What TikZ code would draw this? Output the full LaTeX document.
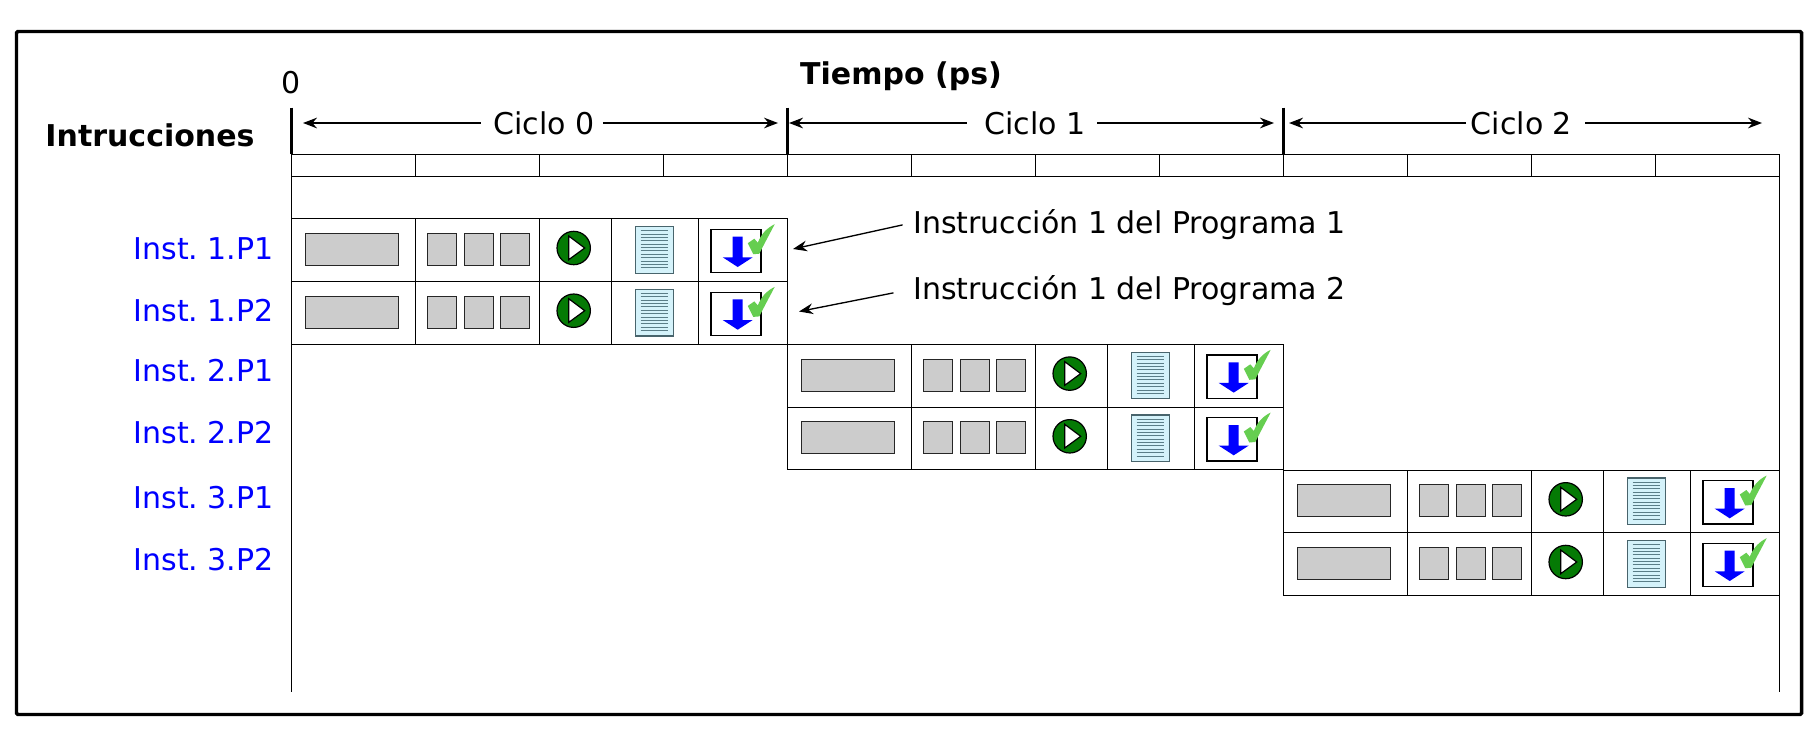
\documentclass[tikz,border=0pt]{standalone}
\usepackage{fontspec}
\setmainfont{DejaVu Sans}
\usetikzlibrary{arrows.meta, positioning}
\definecolor{etapagris}{RGB}{204,204,204}
\definecolor{hojaazul}{RGB}{212,242,250}
\definecolor{hojalinea}{RGB}{90,125,135}
\definecolor{verdeok}{RGB}{102,206,80}
\definecolor{verdeplay}{RGB}{5,122,5}
\frenchspacing
\tikzset{
  texto/.style={font=\fontsize{22.5}{27}\selectfont, inner sep=0pt},
  negrita/.style={font=\fontsize{22.5}{27}\selectfont\bfseries, inner sep=0pt},
  inst/.style={texto, text=blue, anchor=east},
  flecha/.style={-{Stealth[length=10.5pt,width=8pt]}, line width=1pt},
  celda/.style={draw=black, line width=0.75pt},
  gris/.style={draw=black!85, fill=etapagris, line width=0.6pt},
  instrow/.pic={
    % celdas
    \foreach \cx/\cw in {0/124, 124/124, 248/71.7, 319.7/87.7, 407.4/88.6}
      \draw[celda] (\cx,0) rectangle ++(\cw,62.7);
    % IF y registros
    \draw[gris] (14,14.6) rectangle (107.4,46.6);
    \foreach \cx in {136,173,209.4}
      \draw[gris] (\cx,14.6) rectangle ++(29,32);
    % ejecucion
    \draw[fill=verdeplay, line width=0.9pt] (282.4,29.3) circle (16.7);
    \draw[fill=white, line width=0.9pt] (277.4,17.3) -- (293.4,29.3) -- (277.4,41) -- cycle;
    % memoria
    \draw[fill=hojaazul, draw=hojalinea!80!black, line width=0.8pt] (344.4,8) rectangle (382,54.6);
    \foreach \ly in {0,...,11}
      \draw[hojalinea, line width=0.6pt] (349.4,12+3.36*\ly) -- (377,12+3.36*\ly);
    % escritura
    \draw[fill=white, line width=1pt] (419.7,10.8) rectangle (469.7,54);
    \fill[blue] (441.4,18) -- (451.4,18) -- (451.4,38.6) -- (461.4,38.6) -- (446.4,48.3)
      -- (431.4,38.6) -- (441.4,38.6) -- cycle;
    \fill[verdeok] (456.5,24.5) -- (463,20) -- (466.5,24) .. controls (470,15) and (476,9) .. (483.4,5.5)
      .. controls (479,14) and (473,25) .. (468,35) -- (462,35.5) -- cycle;
  }
}
\begin{document}
\begin{tikzpicture}[x=0.75pt, y=-0.75pt]
  \useasboundingbox (0,0) rectangle (1816,733);
  % marco
  \draw[line width=2.6pt, rounded corners=1pt] (16.5,31.5) rectangle (1801.5,714.5);
  % regla de tiempo
  \draw[line width=0.75pt] (291.3,154) rectangle (1779.3,176);
  \foreach \tx in {415.3,539.3,663.3,787.3,911.3,1035.3,1159.3,1283.3,1407.3,1531.3,1655.3}
    \draw[line width=0.75pt] (\tx,154) -- (\tx,176);
  \foreach \tx in {291.3,787.3,1283.3}
    \draw[line width=1.8pt] (\tx,107.5) -- (\tx,154);
  \draw[line width=0.75pt] (291.3,176) -- (291.3,692);
  \draw[line width=0.75pt] (1779.3,176) -- (1779.3,692);
  % titulos
  \node[negrita] (titulo) at (901,76.5) {Tiempo (ps)};
  \node[negrita] (instrucciones) at (150,135.5) {Intrucciones};
  \node[texto] (cero) at (291,83) {0};
  % ciclos
  \foreach \n/\cx/\ax/\bx/\sa/\sb in {0/544/303/778/9.5/6, 1/1035/789/1274/13/8.7, 2/1521.5/1289/1762/3.5/9.5}{
    \coordinate (ini\n) at (\ax,123);
    \coordinate (fin\n) at (\bx,123);
    \node[texto] (ciclo\n) at (\cx,123) {Ciclo \n};
    \draw[flecha, shorten <=\sa pt] (ciclo\n) -- (ini\n);
    \draw[flecha, shorten <=\sb pt] (ciclo\n) -- (fin\n);
  }
  % instrucciones
  \foreach \px/\py in {291.3/218.7, 291.3/281.4, 787.3/344.3, 787.3/407, 1283.3/470, 1283.3/532.7}
    \pic at (\px,\py) {instrow};
  \node[inst] (i1p1) at (274,249) {Inst. 1.P1};
  \node[inst] (i1p2) at (274,311) {Inst. 1.P2};
  \node[inst] (i2p1) at (274,371) {Inst. 2.P1};
  \node[inst] (i2p2) at (274,433) {Inst. 2.P2};
  \node[inst] (i3p1) at (274,498) {Inst. 3.P1};
  \node[inst] (i3p2) at (274,560) {Inst. 3.P2};
  % notas
  \node[texto, anchor=west] (nota1) at (913,225) {Instrucción 1 del Programa 1};
  \node[texto, anchor=west] (nota2) at (913,291) {Instrucción 1 del Programa 2};
  \coordinate (apunta1) at (793,249);
  \coordinate (apunta2) at (799,311.5);
  \draw[flecha, shorten <=8pt] (nota1.west) ++(0,-2.4) -- (apunta1);
  \draw[flecha, shorten <=15pt] (nota2.west) ++(0,-2) -- (apunta2);
\end{tikzpicture}
\end{document}
